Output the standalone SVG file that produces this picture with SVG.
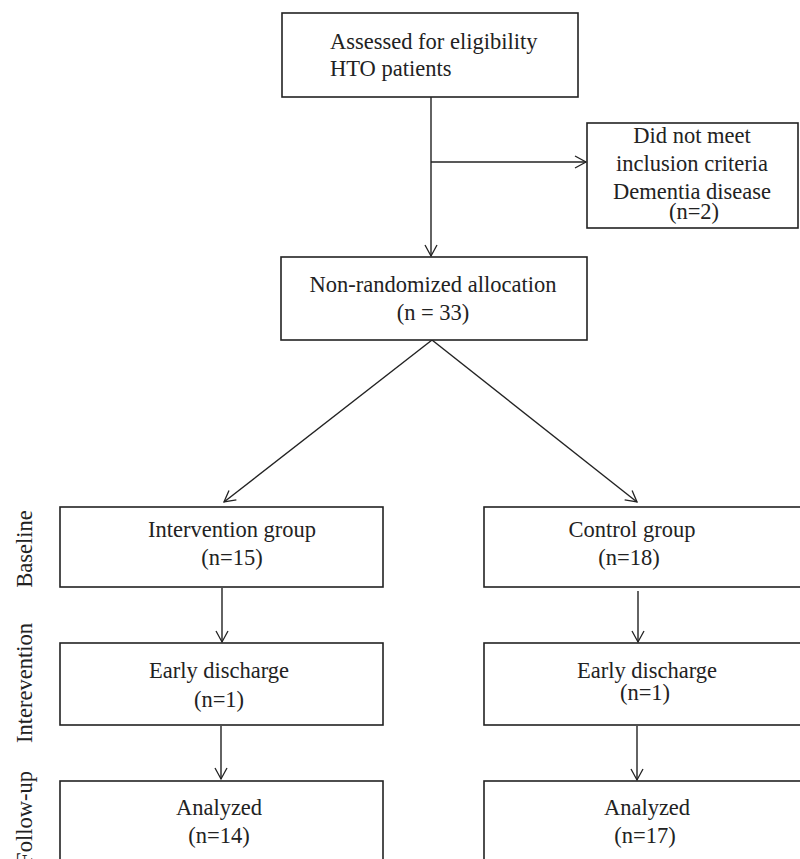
<svg xmlns="http://www.w3.org/2000/svg" width="800" height="859" viewBox="0 0 800 859">
<defs>
<marker id="arr" markerWidth="14" markerHeight="14" refX="12" refY="7" orient="auto" markerUnits="userSpaceOnUse">
<path d="M1,1 L12,7 L1,13" fill="none" stroke="#222" stroke-width="1.3"/>
</marker>
<style>
.box{fill:#fff;stroke:#222;stroke-width:1.6}
text{font-family:"Liberation Serif","Times New Roman",serif;font-size:22.5px;fill:#222}
.c{text-anchor:middle}
.ln{stroke:#222;stroke-width:1.4;fill:none}
</style>
</defs>
<rect width="800" height="859" fill="#fff"/>
<g id="connectors">
<line class="ln" x1="431" y1="97" x2="431" y2="256" marker-end="url(#arr)"/>
<line class="ln" x1="431" y1="162" x2="586" y2="162" marker-end="url(#arr)"/>
<line class="ln" x1="432" y1="340" x2="224" y2="502" marker-end="url(#arr)"/>
<line class="ln" x1="432" y1="340" x2="637" y2="502" marker-end="url(#arr)"/>
<line class="ln" x1="222" y1="588" x2="222" y2="642" marker-end="url(#arr)"/>
<line class="ln" x1="638" y1="591" x2="638" y2="642" marker-end="url(#arr)"/>
<line class="ln" x1="221" y1="726" x2="221" y2="779" marker-end="url(#arr)"/>
<line class="ln" x1="637" y1="726" x2="637" y2="780" marker-end="url(#arr)"/>
</g>
<g id="n-assessed">
<rect class="box" x="282" y="13" width="296" height="84"/>
<text x="330" y="49">Assessed for eligibility</text>
<text x="330" y="76">HTO patients</text>
</g>
<g id="n-excluded">
<rect class="box" x="587" y="123" width="211" height="105"/>
<text class="c" x="692" y="143">Did not meet</text>
<text class="c" x="692" y="171">inclusion criteria</text>
<text class="c" x="692" y="199">Dementia disease</text>
<text class="c" x="694" y="219">(n=2)</text>
</g>
<g id="n-allocation">
<rect class="box" x="281" y="257" width="306" height="83"/>
<text class="c" x="433" y="292">Non-randomized allocation</text>
<text class="c" x="433" y="320">(n = 33)</text>
</g>
<g id="n-intervention">
<rect class="box" x="60" y="507" width="323" height="80"/>
<text class="c" x="232" y="537">Intervention group</text>
<text class="c" x="232" y="565">(n=15)</text>
</g>
<g id="n-control">
<rect class="box" x="484" y="507" width="318" height="80"/>
<text class="c" x="632" y="537">Control group</text>
<text class="c" x="629" y="565">(n=18)</text>
</g>
<g id="n-early-left">
<rect class="box" x="60" y="643" width="323" height="82"/>
<text class="c" x="219" y="678">Early discharge</text>
<text class="c" x="219" y="707">(n=1)</text>
</g>
<g id="n-early-right">
<rect class="box" x="484" y="643" width="318" height="82"/>
<text class="c" x="647" y="678">Early discharge</text>
<text class="c" x="645" y="700">(n=1)</text>
</g>
<g id="n-analyzed-left">
<rect class="box" x="60" y="781" width="323" height="90"/>
<text class="c" x="219" y="815">Analyzed</text>
<text class="c" x="219" y="843">(n=14)</text>
</g>
<g id="n-analyzed-right">
<rect class="box" x="484" y="781" width="318" height="90"/>
<text class="c" x="647" y="815">Analyzed</text>
<text class="c" x="645" y="843">(n=17)</text>
</g>
<g id="side-labels">
<text class="c" transform="translate(32,549) rotate(-90)">Baseline</text>
<text class="c" transform="translate(32,683) rotate(-90)">Interevention</text>
<text class="c" transform="translate(32,818) rotate(-90)">Follow-up</text>
</g>
</svg>
